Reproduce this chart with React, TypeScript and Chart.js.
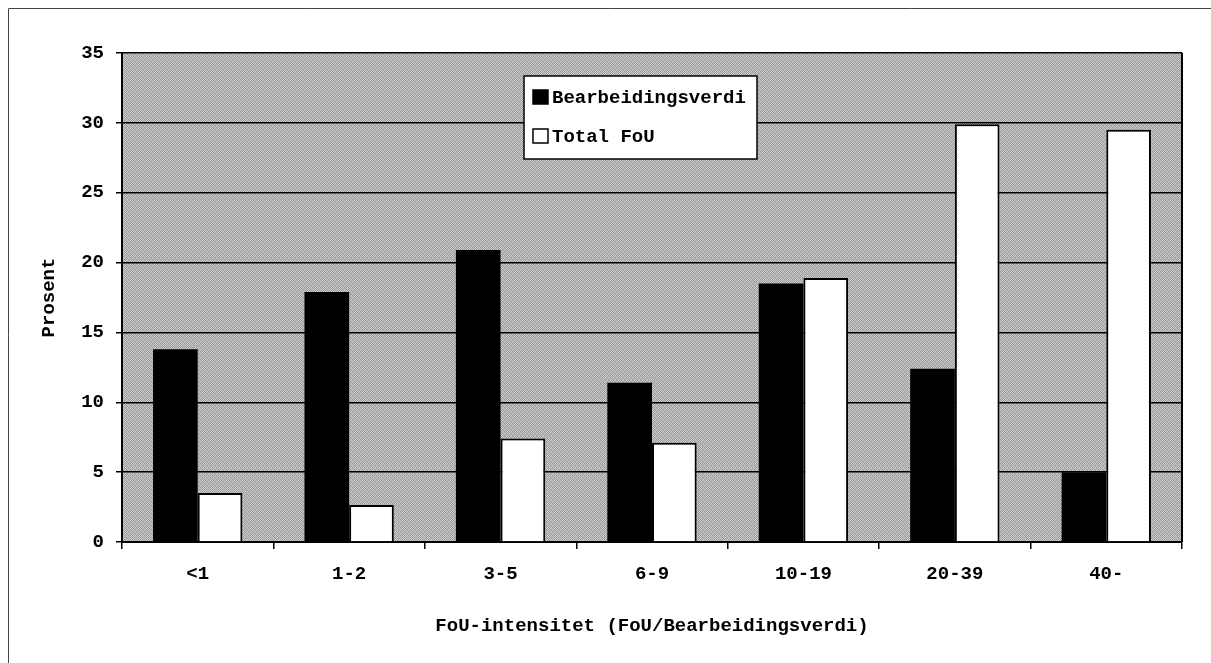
import React, { useEffect, useRef } from "react";
import { Chart, registerables } from "chart.js";

Chart.register(...registerables);

const categories = ["<1", "1-2", "3-5", "6-9", "10-19", "20-39", "40-"];
const bearbeidingsverdi = [13.8, 17.9, 20.9, 11.4, 18.5, 12.4, 5.0];
const totalFoU = [3.5, 2.65, 7.4, 7.1, 18.9, 29.9, 29.5];
const yTicks = [0, 5, 10, 15, 20, 25, 30, 35];

const FONT = "'Liberation Mono', 'DejaVu Sans Mono', monospace";

function makePattern(ctx: CanvasRenderingContext2D) {
  const tile = document.createElement("canvas");
  tile.width = 4;
  tile.height = 4;
  const t = tile.getContext("2d")!;
  const m = [
    [198, 150, 206, 168],
    [160, 214, 142, 196],
    [206, 170, 188, 152],
    [144, 196, 162, 212],
  ];
  for (let y = 0; y < 4; y++)
    for (let x = 0; x < 4; x++) {
      const v = m[y][x];
      t.fillStyle = `rgb(${v},${v},${v})`;
      t.fillRect(x, y, 1, 1);
    }
  return ctx.createPattern(tile, "repeat");
}

const decorPlugin = {
  id: "decor",
  beforeDraw(chart: any) {
    const { ctx, chartArea: a } = chart;
    ctx.save();
    ctx.fillStyle = makePattern(ctx) || "#b4b4b4";
    ctx.fillRect(a.left, a.top, a.right - a.left, a.bottom - a.top);
    // outer frame (top + left)
    ctx.strokeStyle = "#444";
    ctx.lineWidth = 1;
    ctx.beginPath();
    ctx.moveTo(8.5, chart.height);
    ctx.lineTo(8.5, 8.5);
    ctx.lineTo(chart.width, 8.5);
    ctx.stroke();
    ctx.restore();
  },
  afterDraw(chart: any) {
    const { ctx, chartArea: a } = chart;
    ctx.save();
    ctx.strokeStyle = "#000";
    ctx.lineWidth = 2;
    ctx.beginPath();
    ctx.moveTo(a.right, a.top);
    ctx.lineTo(a.right, a.bottom);
    ctx.stroke();

    // legend box
    const bx = 524, by = 76, bw = 233, bh = 83;
    ctx.fillStyle = "#fff";
    ctx.fillRect(bx, by, bw, bh);
    ctx.lineWidth = 1.5;
    ctx.strokeRect(bx, by, bw, bh);
    ctx.font = `bold 19px ${FONT}`;
    ctx.textBaseline = "middle";
    ctx.textAlign = "left";
    const rows = [97, 136];
    chart.data.datasets.forEach((ds: any, i: number) => {
      const cy = rows[i];
      ctx.fillStyle = ds.backgroundColor;
      ctx.fillRect(533, cy - 7, 15, 14);
      ctx.lineWidth = 1.5;
      ctx.strokeStyle = "#000";
      ctx.strokeRect(533, cy - 7, 15, 14);
      ctx.fillStyle = "#000";
      ctx.fillText(ds.label, 552, cy + 1);
    });
    ctx.restore();
  },
};

export default function App() {
  const ref = useRef<HTMLCanvasElement>(null);
  useEffect(() => {
    const chart = new Chart(ref.current!, {
      type: "bar",
      data: {
        labels: categories,
        datasets: [
          {
            label: "Bearbeidingsverdi",
            data: bearbeidingsverdi,
            backgroundColor: "#000",
            borderWidth: 0,
            categoryPercentage: 0.59,
            barPercentage: 1,
          },
          {
            label: "Total FoU",
            data: totalFoU,
            backgroundColor: "#fff",
            borderColor: "#000",
            borderWidth: 2,
            categoryPercentage: 0.59,
            barPercentage: 1,
          },
        ],
      },
      options: {
        animation: false,
        responsive: false,
        layout: { padding: { top: 53, right: 29, left: 0, bottom: 0 } },
        plugins: { legend: { display: false }, tooltip: { enabled: false } },
        scales: {
          x: {
            afterFit: (s: any) => {
              s.height = 121;
            },
            grid: {
              offset: true,
              drawOnChartArea: false,
              drawTicks: true,
              tickLength: 7,
              tickColor: "#000",
              lineWidth: 1.5,
            },
            border: { display: true, color: "#000", width: 2 },
            ticks: {
              color: "#000",
              padding: 14,
              font: { family: FONT, size: 19, weight: "bold" },
            },
            title: {
              display: true,
              text: "FoU-intensitet (FoU/Bearbeidingsverdi)",
              color: "#000",
              font: { family: FONT, size: 19, weight: "bold" },
              padding: { top: 0, bottom: 25 },
            },
          },
          y: {
            min: 0,
            max: 35,
            afterFit: (s: any) => {
              s.width = 122;
            },
            afterBuildTicks: (s: any) => {
              s.ticks = yTicks.map((v) => ({ value: v }));
            },
            grid: {
              color: "#000",
              lineWidth: 1.5,
              tickLength: 6,
              tickColor: "#000",
            },
            border: { display: true, color: "#000", width: 2 },
            ticks: {
              color: "#000",
              padding: 12,
              font: { family: FONT, size: 19, weight: "bold" },
            },
            title: {
              display: true,
              text: "Prosent",
              color: "#000",
              font: { family: FONT, size: 19, weight: "bold" },
              padding: { top: 38, bottom: 0 },
            },
          },
        },
      },
      plugins: [decorPlugin],
    });
    return () => chart.destroy();
  }, []);
  return (
    <canvas
      ref={ref}
      width={1211}
      height={663}
      style={{ position: "fixed", left: 0, top: 0, width: 1211, height: 663 }}
    />
  );
}
